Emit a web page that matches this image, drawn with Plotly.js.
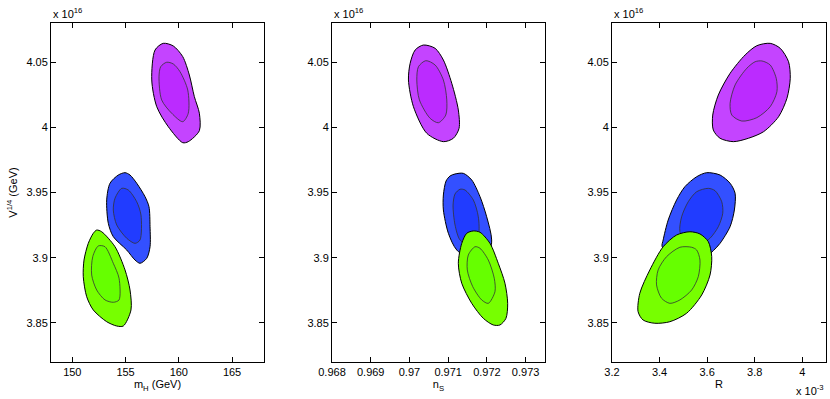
<!DOCTYPE html>
<html>
<head>
<meta charset="utf-8">
<script src="https://cdn.plot.ly/plotly-3.0.1.min.js"></script>
<style>
  html, body { margin: 0; padding: 0; background: #fff; }
  #plot { width: 830px; height: 399px; }
</style>
</head>
<body>
<div id="plot"></div>
<script>
// contour outlines (y in units of 1e16 GeV)
// panel 1: m_H (GeV)
var mhPurpleOutX = [158.54, 157.77, 157.46, 157.93, 159.01, 160.37, 160.89, 161.93, 161.93, 161.46, 160.99, 160.37, 159.48];
var mhPurpleOutY = [4.0644, 4.0593, 4.0363, 4.0158, 4.0005, 3.9882, 3.9890, 3.9974, 4.0108, 4.0235, 4.0401, 4.0542, 4.0624];
var mhPurpleInX = [158.86, 158.30, 158.14, 158.39, 159.33, 160.37, 160.89, 160.84, 160.11, 159.48];
var mhPurpleInY = [4.0499, 4.0465, 4.0388, 4.0210, 4.0108, 4.0043, 4.0108, 4.0286, 4.0427, 4.0486];
var mhBlueOutX = [154.95, 155.42, 156.05, 156.83, 157.20, 157.30, 157.30, 156.99, 156.36, 155.89, 155.11, 153.85, 153.38, 153.23, 153.54, 154.32];
var mhBlueOutY = [3.9652, 3.9634, 3.9571, 3.9468, 3.9391, 3.9238, 3.9084, 3.8995, 3.8957, 3.8982, 3.9059, 3.9161, 3.9264, 3.9443, 3.9571, 3.9634];
var mhBlueInX = [154.64, 155.26, 156.05, 156.45, 156.36, 155.89, 155.11, 154.17, 153.85, 154.01];
var mhBlueInY = [3.9532, 3.9519, 3.9429, 3.9327, 3.9136, 3.9110, 3.9149, 3.9251, 3.9366, 3.9456];
var mhGreenOutX = [152.29, 152.76, 154.01, 154.95, 155.42, 155.51, 154.79, 154.17, 153.23, 151.97, 151.35, 151.03, 151.10, 151.50, 151.97];
var mhGreenOutY = [3.9212, 3.9199, 3.9084, 3.8906, 3.8752, 3.8599, 3.8476, 3.8476, 3.8509, 3.8599, 3.8701, 3.8854, 3.8982, 3.9110, 3.9187];
var mhGreenInX = [152.44, 153.07, 153.85, 154.39, 154.39, 153.85, 153.07, 152.29, 151.82, 151.92];
var mhGreenInY = [3.9090, 3.9084, 3.8957, 3.8842, 3.8676, 3.8658, 3.8676, 3.8752, 3.8867, 3.9008];

// panel 2: n_S
var nsPurpleOutX = [0.970361, 0.970147, 0.970018, 0.969974, 0.970103, 0.970448, 0.970876, 0.971134, 0.971281, 0.971262, 0.971092, 0.970876, 0.970662];
var nsPurpleOutY = [4.0631, 4.0593, 4.0491, 4.0363, 4.0158, 3.9954, 3.9890, 3.9916, 3.9992, 4.0133, 4.0338, 4.0516, 4.0606];
var nsPurpleInX = [0.970422, 0.970232, 0.970190, 0.970257, 0.970533, 0.970747, 0.970938, 0.970964, 0.970876, 0.970662];
var nsPurpleInY = [4.0511, 4.0465, 4.0363, 4.0210, 4.0069, 4.0035, 4.0094, 4.0210, 4.0363, 4.0478];
var nsBlueOutX = [0.971177, 0.971391, 0.971608, 0.971822, 0.971994, 0.972123, 0.972028, 0.971693, 0.971221, 0.971005, 0.970876, 0.970876, 0.970945, 0.971049];
var nsBlueOutY = [3.9642, 3.9647, 3.9596, 3.9468, 3.9314, 3.9136, 3.8998, 3.8967, 3.9059, 3.9187, 3.9366, 3.9481, 3.9588, 3.9627];
var nsBlueInX = [0.971306, 0.971435, 0.971649, 0.971778, 0.971778, 0.971564, 0.971306, 0.971177, 0.971126, 0.971177];
var nsBlueInY = [3.9525, 3.9519, 3.9443, 3.9314, 3.9174, 3.9097, 3.9136, 3.9251, 3.9404, 3.9489];
var nsGreenOutX = [0.971649, 0.971822, 0.972079, 0.972293, 0.972466, 0.972536, 0.972492, 0.972337, 0.972164, 0.971907, 0.971608, 0.971350, 0.971262, 0.971350, 0.971479];
var nsGreenOutY = [3.9205, 3.9195, 3.9110, 3.8957, 3.8804, 3.8650, 3.8535, 3.8484, 3.8484, 3.8535, 3.8650, 3.8804, 3.8957, 3.9110, 3.9187];
var nsGreenInX = [0.971693, 0.971822, 0.972036, 0.972190, 0.972208, 0.972036, 0.971866, 0.971634, 0.971494, 0.971520];
var nsGreenInY = [3.9084, 3.9072, 3.8982, 3.8842, 3.8739, 3.8650, 3.8676, 3.8778, 3.8906, 3.9021];

// panel 3: R (units of 1e-3)
var rPurpleOutX = [3.8653, 3.9075, 3.9425, 3.9497, 3.9358, 3.9004, 3.8371, 3.7738, 3.7105, 3.6544, 3.6261, 3.6236, 3.6472, 3.6966, 3.7599, 3.8092];
var rPurpleOutY = [4.0644, 4.0606, 4.0503, 4.0376, 4.0223, 4.0081, 3.9966, 3.9916, 3.9890, 3.9916, 3.9979, 4.0094, 4.0248, 4.0414, 4.0555, 4.0626];
var rPurpleInX = [3.8303, 3.8653, 3.8907, 3.8936, 3.8653, 3.8092, 3.7459, 3.7037, 3.6966, 3.7177, 3.7670, 3.8020];
var rPurpleInY = [4.0509, 4.0478, 4.0376, 4.0273, 4.0158, 4.0074, 4.0048, 4.0094, 4.0184, 4.0325, 4.0453, 4.0503];
var rBlueOutX = [3.5983, 3.6544, 3.6966, 3.7177, 3.7147, 3.6966, 3.6544, 3.6261, 3.5700, 3.4856, 3.4110, 3.4152, 3.4363, 3.4717, 3.5067, 3.5561];
var rBlueOutY = [3.9652, 3.9634, 3.9571, 3.9494, 3.9366, 3.9238, 3.9110, 3.9054, 3.8967, 3.8967, 3.9084, 3.9136, 3.9289, 3.9443, 3.9545, 3.9621];
var rBlueInX = [3.6050, 3.6333, 3.6616, 3.6658, 3.6472, 3.6122, 3.5700, 3.5194, 3.4856, 3.4928, 3.5206, 3.5561];
var rBlueInY = [3.9532, 3.9514, 3.9429, 3.9341, 3.9238, 3.9149, 3.9097, 3.9090, 3.9199, 3.9314, 3.9429, 3.9506];
var rGreenOutX = [3.5278, 3.5700, 3.6050, 3.6194, 3.6122, 3.5772, 3.5139, 3.4434, 3.3801, 3.3308, 3.3097, 3.3169, 3.3591, 3.4152, 3.4717];
var rGreenOutY = [3.9199, 3.9182, 3.9123, 3.9008, 3.8867, 3.8714, 3.8574, 3.8509, 3.8497, 3.8522, 3.8586, 3.8727, 3.8906, 3.9084, 3.9174];
var rGreenInX = [3.5350, 3.5561, 3.5700, 3.5628, 3.5350, 3.4856, 3.4434, 3.4084, 3.3873, 3.3941, 3.4295, 3.4856];
var rGreenInY = [3.9080, 3.9059, 3.8982, 3.8854, 3.8752, 3.8676, 3.8650, 3.8689, 3.8791, 3.8906, 3.9008, 3.9080];

var yTicks = [3.85, 3.9, 3.95, 4, 4.05];
var yTickText = ['3.85', '3.9', '3.95', '4', '4.05'];
var mhTicks = [150, 155, 160, 165];
var mhTickText = ['150', '155', '160', '165'];
var nsTicks = [0.968, 0.969, 0.97, 0.971, 0.972, 0.973];
var nsTickText = ['0.968', '0.969', '0.97', '0.971', '0.972', '0.973'];
var rTicks = [3.2, 3.4, 3.6, 3.8, 4];
var rTickText = ['3.2', '3.4', '3.6', '3.8', '4'];

var purpleOut = '#c444ff', purpleIn = '#bb2bff';
var blueOut = '#3350ff', blueIn = '#213cff';
var greenOut = '#77ff00', greenIn = '#66ff00';

function blob(x, y, color, xa, ya, outer) {
  return {
    x: x.concat([x[0]]), y: y.concat([y[0]]),
    xaxis: xa, yaxis: ya,
    type: 'scatter', mode: 'lines', fill: 'toself', fillcolor: color,
    line: {color: outer ? '#000' : '#333', width: outer ? 1 : 0.8, shape: 'spline', smoothing: 0.8},
    hoverinfo: 'skip', showlegend: false
  };
}

var data = [
  blob(mhPurpleOutX, mhPurpleOutY, purpleOut, 'x', 'y', true),
  blob(mhPurpleInX, mhPurpleInY, purpleIn, 'x', 'y', false),
  blob(mhBlueOutX, mhBlueOutY, blueOut, 'x', 'y', true),
  blob(mhBlueInX, mhBlueInY, blueIn, 'x', 'y', false),
  blob(mhGreenOutX, mhGreenOutY, greenOut, 'x', 'y', true),
  blob(mhGreenInX, mhGreenInY, greenIn, 'x', 'y', false),
  blob(nsPurpleOutX, nsPurpleOutY, purpleOut, 'x2', 'y2', true),
  blob(nsPurpleInX, nsPurpleInY, purpleIn, 'x2', 'y2', false),
  blob(nsBlueOutX, nsBlueOutY, blueOut, 'x2', 'y2', true),
  blob(nsBlueInX, nsBlueInY, blueIn, 'x2', 'y2', false),
  blob(nsGreenOutX, nsGreenOutY, greenOut, 'x2', 'y2', true),
  blob(nsGreenInX, nsGreenInY, greenIn, 'x2', 'y2', false),
  blob(rPurpleOutX, rPurpleOutY, purpleOut, 'x3', 'y3', true),
  blob(rPurpleInX, rPurpleInY, purpleIn, 'x3', 'y3', false),
  blob(rBlueOutX, rBlueOutY, blueOut, 'x3', 'y3', true),
  blob(rBlueInX, rBlueInY, blueIn, 'x3', 'y3', false),
  blob(rGreenOutX, rGreenOutY, greenOut, 'x3', 'y3', true),
  blob(rGreenInX, rGreenInY, greenIn, 'x3', 'y3', false)
];

var font = {family: 'Liberation Sans, Arial, sans-serif', size: 11, color: '#000'};
function xax(domain, range, tv, tt, title, anchor) {
  return {
    domain: domain, range: range, tickvals: tv, ticktext: tt, anchor: anchor,
    ticks: 'inside', ticklen: 5, tickcolor: '#000', mirror: 'ticks',
    showline: true, linecolor: '#000', linewidth: 1, showgrid: false, zeroline: false,
    tickfont: font, title: {text: title, font: font, standoff: 3}
  };
}
function yax(anchor) {
  return {
    domain: [1 - 362 / 399, 1 - 23 / 399], range: [3.82, 4.08], anchor: anchor,
    tickvals: yTicks, ticktext: yTickText,
    ticks: 'inside', ticklen: 5, tickcolor: '#000', mirror: 'ticks',
    showline: true, linecolor: '#000', linewidth: 1, showgrid: false, zeroline: false,
    tickfont: font
  };
}

var yaxis1 = yax('x');
yaxis1.title = {text: 'V<sup>1/4</sup> (GeV)', font: font, standoff: 6};

var layout = {
  width: 830, height: 399,
  margin: {l: 0, r: 0, t: 0, b: 0},
  paper_bgcolor: '#fff', plot_bgcolor: '#fff',
  font: font,
  xaxis: xax([51 / 830, 264 / 830], [148, 168], mhTicks, mhTickText, 'm<sub>H</sub> (GeV)', 'y'),
  xaxis2: xax([332 / 830, 545 / 830], [0.968, 0.9735], nsTicks, nsTickText, 'n<sub>S</sub>', 'y2'),
  xaxis3: xax([612 / 830, 826 / 830], [3.2, 4.1], rTicks, rTickText, 'R', 'y3'),
  yaxis: yaxis1,
  yaxis2: yax('x2'),
  yaxis3: yax('x3'),
  annotations: [
    {xref: 'paper', yref: 'paper', x: 51 / 830, y: 1 - 22 / 399, xanchor: 'left', yanchor: 'bottom', showarrow: false, text: 'x 10<sup>16</sup>', font: font},
    {xref: 'paper', yref: 'paper', x: 332 / 830, y: 1 - 22 / 399, xanchor: 'left', yanchor: 'bottom', showarrow: false, text: 'x 10<sup>16</sup>', font: font},
    {xref: 'paper', yref: 'paper', x: 612 / 830, y: 1 - 22 / 399, xanchor: 'left', yanchor: 'bottom', showarrow: false, text: 'x 10<sup>16</sup>', font: font},
    {xref: 'paper', yref: 'paper', x: 826 / 830, y: 0, xanchor: 'right', yanchor: 'bottom', showarrow: false, text: 'x 10<sup>-3</sup>', font: font}
  ]
};

Plotly.newPlot('plot', data, layout, {displayModeBar: false});
</script>
</body>
</html>
